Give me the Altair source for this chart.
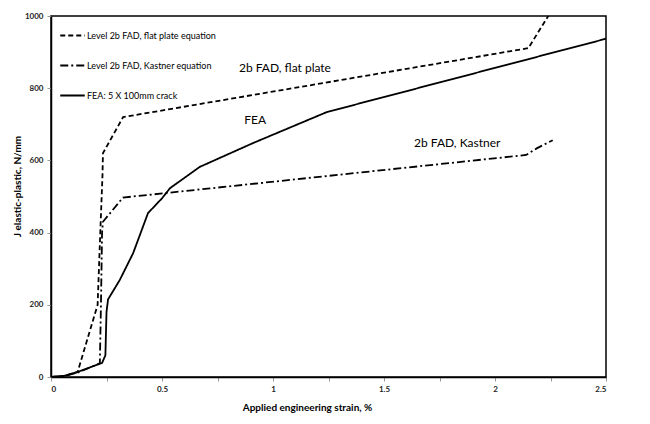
import altair as alt
import pandas as pd

# Series
flat_x = [0.0, 0.06, 0.12, 0.21, 0.222, 0.232, 0.234, 0.325, 2.15, 2.24]
flat_y = [0, 3, 14, 200, 400, 560, 620, 720, 911, 1000]

kast_x = [0.0, 0.06, 0.12, 0.22, 0.225, 0.23, 0.234, 0.324, 2.14, 2.19, 2.26]
kast_y = [0, 3, 12, 38, 200, 400, 430, 497, 615, 634, 656]

fea_x = [0.0, 0.06, 0.12, 0.23, 0.245, 0.25, 0.257, 0.31, 0.37, 0.437, 0.5, 0.536, 0.67, 0.91, 1.243, 2.5]
fea_y = [0, 3, 14, 39, 60, 180, 215, 269, 343, 454, 495, 523, 582, 648, 734, 937]

series_names = ["Level 2b FAD, flat plate equation",
                "Level 2b FAD, Kastner equation",
                "FEA: 5 X 100mm crack"]

ann_text = ["2b FAD, flat plate", "FEA", "2b FAD, Kastner"]
ann_x = [1.054, 0.92, 1.83]
ann_y = [855, 713, 648]

x_ticks = [0, 0.25, 0.5, 0.75, 1, 1.25, 1.5, 1.75, 2, 2.25, 2.5]
y_ticks = [0, 100, 200, 300, 400, 500, 600, 700, 800, 900, 1000]

rows = []
for name, xs, ys in zip(series_names, [flat_x, kast_x, fea_x], [flat_y, kast_y, fea_y]):
    for i, (a, b) in enumerate(zip(xs, ys)):
        rows.append({"series": name, "strain": a, "J": b, "idx": i})
df = pd.DataFrame(rows)
ann = pd.DataFrame({"text": ann_text, "x": ann_x, "y": ann_y})

font = "Lato"

x_enc = alt.X("strain:Q", scale=alt.Scale(domain=[0, 2.5], nice=False),
              axis=alt.Axis(values=x_ticks, format="~g",
                            labelExpr="datum.value % 0.5 == 0 ? datum.label : ''",
                            title="Applied engineering strain, %",
                            titleX=256, titleY=30, titleBaseline="middle",
                            grid=False))
y_enc = alt.Y("J:Q", scale=alt.Scale(domain=[0, 1000], nice=False),
              axis=alt.Axis(values=y_ticks, format="d",
                            labelExpr="datum.value % 200 == 0 ? datum.label : ''",
                            title="J elastic-plastic, N/mm",
                            titleX=-34, titleY=170, titleAngle=270,
                            titleAlign="center", titleBaseline="middle",
                            grid=False))

lines = alt.Chart(df).mark_line(color="black", strokeWidth=1.8, clip=True).encode(
    x=x_enc,
    y=y_enc,
    strokeDash=alt.StrokeDash("series:N",
        scale=alt.Scale(domain=series_names, range=[[5, 3], [8, 3, 2, 3], [1, 0]]),
        legend=alt.Legend(title=None, orient="none", legendX=8, legendY=6,
                          symbolType="stroke", symbolSize=600, symbolStrokeWidth=1.8,
                          symbolStrokeColor="black",
                          labelFont=font, labelFontSize=9, labelColor="black",
                          rowPadding=11, labelOffset=1)),
    order="idx:Q",
)

texts = alt.Chart(ann).mark_text(font=font, fontSize=12, color="black").encode(
    x="x:Q", y="y:Q", text="text:N"
)

chart = alt.layer(lines, texts).properties(
    width=555, height=361,
    autosize=alt.AutoSizeParams(type="none"),
    padding={"left": 43, "top": 8, "right": 36, "bottom": 39},
    background="white",
).configure_view(
    stroke="black", strokeWidth=1.5
).configure_axis(
    labelFont=font, labelFontSize=8, labelFontWeight="bold", labelColor="#222222",
    titleFont=font, titleFontSize=10, titleFontWeight="bold", titleColor="black",
    domainColor="black", domainWidth=1.5,
    tickColor="#999999", tickSize=4, labelPadding=4,
)

chart.save("out.html", embed_options={"renderer": "svg", "actions": False})
